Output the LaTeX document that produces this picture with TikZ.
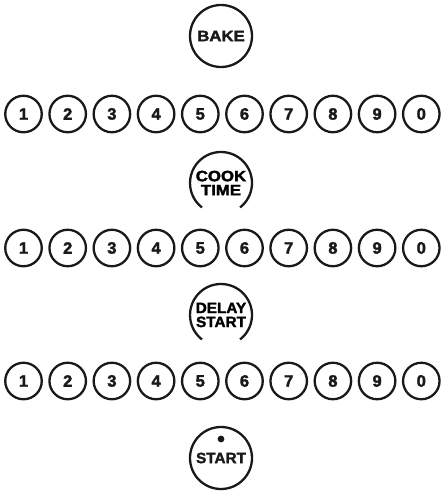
\documentclass[tikz,border=0pt]{standalone}
\usepackage{fontspec}
\setmainfont{Liberation Sans}
\newfontface\heavy{Liberation Sans Bold}[FakeBold=2]
\tikzset{
  ring/.style={line width=2.3pt, black!90},
  numkey/.style={circle, draw, ring, minimum size=36.5pt, inner sep=0pt, outer sep=0pt,
    font=\fontsize{16.5}{16}\selectfont\heavy},
  bigkey/.style={circle, minimum size=62pt, inner sep=0pt, outer sep=0pt,
    font=\fontsize{15}{14}\selectfont\heavy, align=center},
}
\begin{document}
\begin{tikzpicture}[x=1pt,y=-1pt]
\useasboundingbox (0,0) rectangle (441,495);
% BAKE
\node[bigkey, draw, ring] (bake) at (221,36) {\scalebox{1.12}[1]{BAKE}};
% number rows
\foreach \r/\yy in {1/114, 2/248, 3/381}{
  \foreach \d [count=\k from 0] in {1,2,3,4,5,6,7,8,9,0}{
    \node[numkey] (row\r key\d) at (23.5+44.2*\k,\yy) {\d};
  }
}
% COOK TIME
\node[bigkey] (cook) at (221,183) {\scalebox{1.12}[1]{COOK}\\\scalebox{1.12}[1]{TIME}};
\draw[ring] (cook.-52) arc[start angle=-52, end angle=232, radius=31pt];
% DELAY START
\node[bigkey] (delay) at (221,315) {\scalebox{1.02}[1]{DELAY}\\\scalebox{1.02}[1]{START}};
\draw[ring] (delay.-52) arc[start angle=-52, end angle=232, radius=31pt];
% START
\node[bigkey, draw, ring] (start) at (221,458) {\raisebox{-4pt}{\scalebox{1.02}[1]{START}}};
\fill[black!90] (start.center) ++(0,-19) circle[radius=3.4pt];
\end{tikzpicture}
\end{document}
